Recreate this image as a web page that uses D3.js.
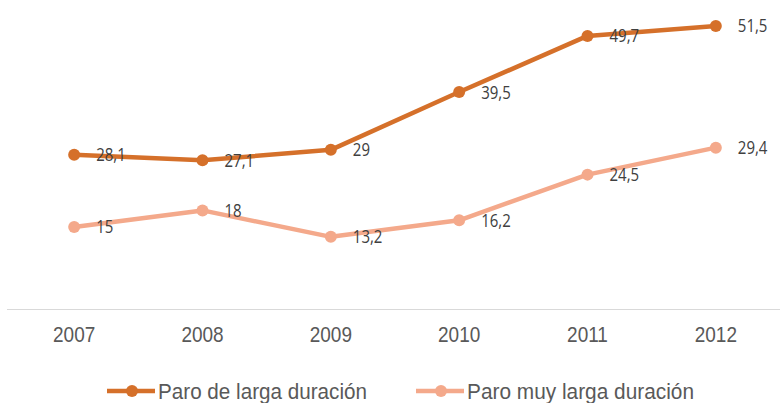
<!DOCTYPE html>
<html><head><meta charset="utf-8">
<script src="https://cdn.jsdelivr.net/npm/d3@7"></script>
<style>body{margin:0;background:#fff}svg{display:block}</style>
</head><body><svg id="c" width="780" height="403"></svg>
<script>
const years = ["2007","2008","2009","2010","2011","2012"];
const paroLarga = [28.1, 27.1, 29, 39.5, 49.7, 51.5];
const paroMuyLarga = [15, 18, 13.2, 16.2, 24.5, 29.4];
const seriesNames = ["Paro de larga duración", "Paro muy larga duración"];
const colors = ["#D5702A", "#F4A98B"];

const svg = d3.select("#c");
const x = d3.scaleBand().domain(years).range([10, 780]);
const y = d3.scaleLinear().domain([0, 60]).range([309.5, 309.5 - 60 * 5.505]);
const cx = d => x(d) + x.bandwidth() / 2;

svg.append("line").attr("x1", 7).attr("x2", 780).attr("y1", 309.5).attr("y2", 309.5)
  .attr("stroke", "#d9d9d9").attr("stroke-width", 1);

// category axis
const axisG = svg.append("g").attr("transform", "translate(0,309.5)")
  .call(d3.axisBottom(x).tickSize(0).tickPadding(0));
axisG.select(".domain").remove();
axisG.selectAll("text")
  .attr("dy", null).attr("y", 0)
  .attr("transform", "translate(0,32.5) scale(1,1.12)")
  .attr("font-family", "'Liberation Sans', Arial, sans-serif")
  .attr("font-size", 19).attr("fill", "#595959");

const fmt = v => String(v).replace(".", ",");
const line = d3.line().x((d, i) => cx(years[i])).y(d => y(d));

[paroLarga, paroMuyLarga].forEach((vals, s) => {
  const g = svg.append("g");
  g.append("path").datum(vals).attr("d", line).attr("fill", "none")
    .attr("stroke", colors[s]).attr("stroke-width", 4.5).attr("stroke-linejoin", "round");
  g.selectAll("circle").data(vals).join("circle")
    .attr("cx", (d, i) => cx(years[i])).attr("cy", d => y(d)).attr("r", 6)
    .attr("fill", colors[s]);
  g.selectAll("text").data(vals).join("text")
    .attr("transform", (d, i) => `translate(${cx(years[i]) + 22},${y(d) + 6.5}) scale(1,1.25)`)
    .attr("font-family", "'Open Sans', 'DejaVu Sans', sans-serif").attr("font-size", 15)
    .attr("fill", "#404040").text(fmt);
});

// legend
const legX = [107, 416];
const legTextW = [209, 227];
seriesNames.forEach((name, s) => {
  const g = svg.append("g").attr("transform", `translate(${legX[s]},391)`);
  g.append("line").attr("x1", 0).attr("x2", 48).attr("stroke", colors[s]).attr("stroke-width", 4.5);
  g.append("circle").attr("cx", 25).attr("r", 6).attr("fill", colors[s]);
  g.append("text").attr("transform", "translate(51,7.5) scale(1,1.1)")
    .attr("textLength", legTextW[s]).attr("lengthAdjust", "spacingAndGlyphs")
    .attr("font-family", "'Liberation Sans', Arial, sans-serif")
    .attr("font-size", 20).attr("fill", "#595959").text(name);
});
</script></body></html>
